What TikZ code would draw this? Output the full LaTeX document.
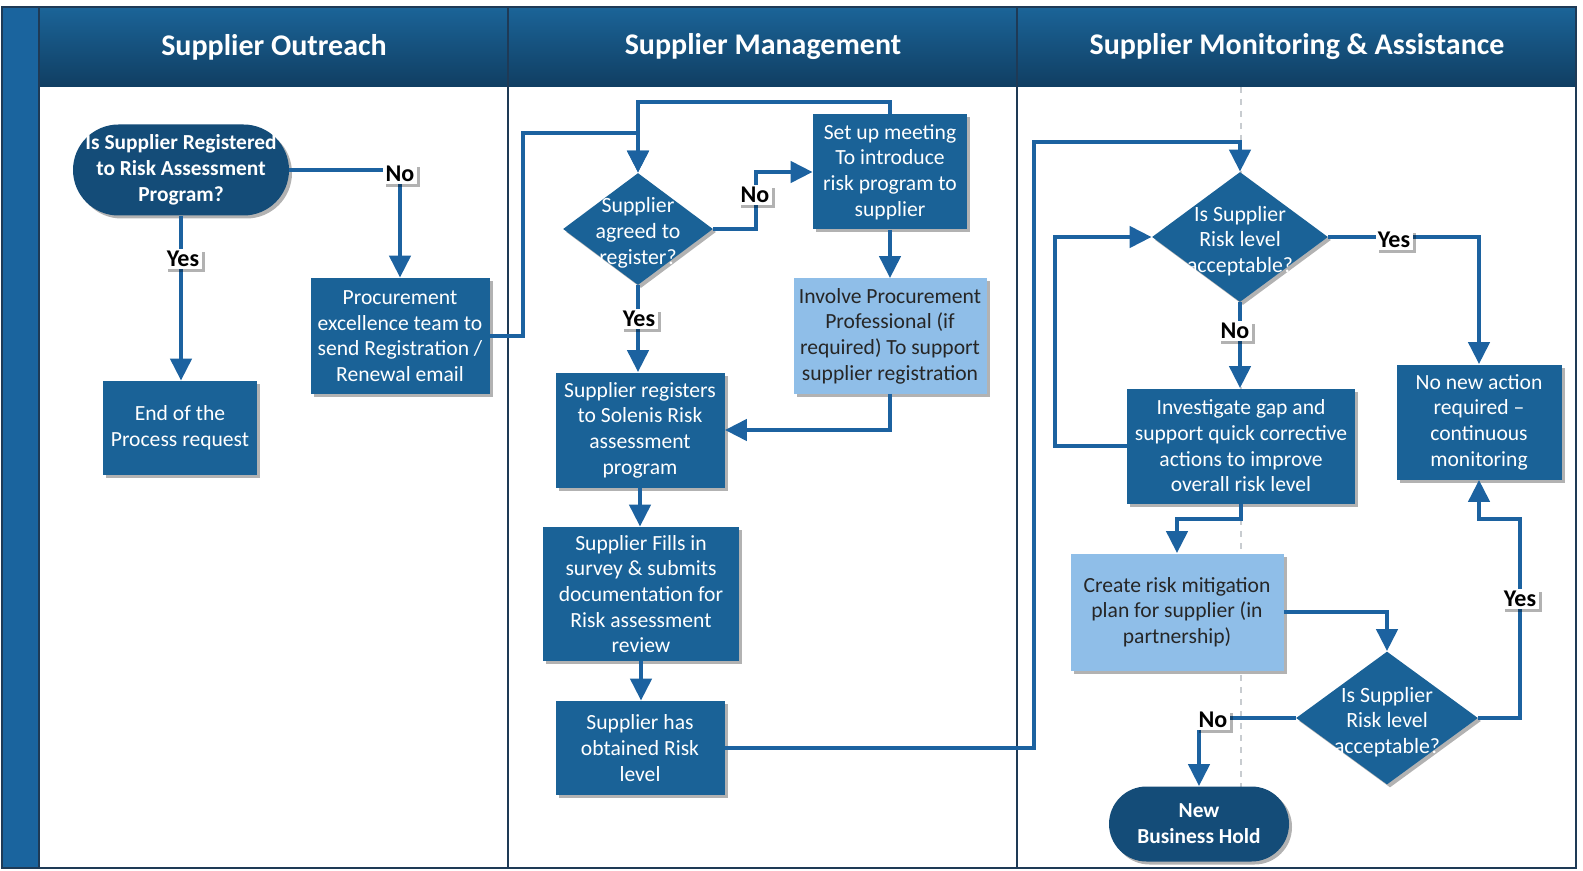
\documentclass[tikz,border=0pt]{standalone}
\usepackage{fontspec}
\setmainfont{Carlito}
\usetikzlibrary{shapes.geometric,arrows.meta,shadows}
\definecolor{boxblue}{HTML}{1A6297}
\definecolor{termblue}{HTML}{144C78}
\definecolor{lightblue}{HTML}{8FBEE8}
\definecolor{linkblue}{HTML}{1C62A0}
\definecolor{hdrtop}{HTML}{1B6498}
\definecolor{hdrbot}{HTML}{103E62}
\definecolor{barblue}{HTML}{1A649E}
\definecolor{navy}{HTML}{1E3A56}
\definecolor{dashgray}{HTML}{C8CCD0}
\begin{document}
\begin{tikzpicture}[x=0.5pt,y=-0.5pt,
 shd/.style={drop shadow={shadow xshift=1.5pt,shadow yshift=-1.5pt,opacity=0.3,fill=black}},
 procbox/.style={rectangle,fill=boxblue,text=white,align=center,inner sep=0pt,font=\fontsize{10.8}{12.85}\selectfont,shd},
 lightbox/.style={procbox,fill=lightblue,text=black!85},
 term/.style={rectangle,rounded corners=#1,fill=termblue,text=white,align=center,inner sep=0pt,font=\bfseries\fontsize{10.7}{13}\selectfont,shd},
 dia/.style={diamond,fill=boxblue,inner sep=0pt,shd},
 diatext/.style={text=white,align=center,inner sep=0pt,yshift=-2pt,font=\fontsize{10.9}{12.9}\selectfont},
 arr/.style={draw=linkblue,line width=2.2pt,-{Triangle[width=10.5pt,length=11pt]}},
 lbl/.style={fill=white,text=black,font=\bfseries\fontsize{12}{14}\selectfont,inner sep=1.2pt,shd},
 hdr/.style={text=white,font=\bfseries\fontsize{15}{18}\selectfont}
]
\useasboundingbox (0,0) rectangle (1583,871);
\fill[white] (0,0) rectangle (1583,871);
% lanes frame
\fill[barblue] (2,7) rectangle (39,868);
\shade[top color=hdrtop,bottom color=hdrbot] (40,7) rectangle (1576,87);
\draw[dashgray,dashed,line width=0.6pt] (1241,87) -- (1241,868);
\draw[navy,line width=1.2pt] (2,7) rectangle (1576,868);
\draw[navy,line width=1.2pt] (39,7) -- (39,868);
\draw[navy,line width=1.2pt] (508,7) -- (508,868);
\draw[navy,line width=1.2pt] (1017,7) -- (1017,868);
\node[hdr] (h1) at (274,47) {Supplier Outreach};
\node[hdr] (h2) at (763,47) {Supplier Management};
\node[hdr] (h3) at (1297,47) {Supplier Monitoring \& Assistance};

% lane 1
\node[term=22.75pt,minimum width=108pt,minimum height=45.5pt] (start) at (181,170) {Is Supplier Registered\\to Risk Assessment\\Program?};
\node[procbox,minimum width=77pt,minimum height=47pt] (end1) at (180,428) {End of the\\Process request};
\node[procbox,minimum width=89.5pt,minimum height=58pt] (proc1) at (400,336) {Procurement\\excellence team to\\send Registration /\\Renewal email};

% lane 2
\node[dia,minimum width=75pt,minimum height=56pt] (d1) at (638,229) {};
\node[diatext] (d1t) at (d1.center) {Supplier\\agreed to\\register?};
\node[procbox,minimum width=77pt,minimum height=57.5pt] (setup) at (890,172) {Set up meeting\\To introduce\\risk program to\\supplier};
\node[lightbox,minimum width=96.5pt,minimum height=57.5pt] (involve) at (890,336) {Involve Procurement\\Professional (if\\required) To support\\supplier registration};
\node[procbox,minimum width=84.5pt,minimum height=57.5pt] (reg) at (640,430) {Supplier registers\\to Solenis Risk\\assessment\\program};
\node[procbox,minimum width=98pt,minimum height=67pt] (fills) at (641,594) {Supplier Fills in\\survey \& submits\\documentation for\\Risk assessment\\review};
\node[procbox,minimum width=84.5pt,minimum height=47pt] (has) at (640,748) {Supplier has\\obtained Risk\\level};

% lane 3
\node[dia,minimum width=88pt,minimum height=65pt] (d2) at (1240,237) {};
\node[diatext] (d2t) at (d2.center) {Is Supplier\\Risk level\\acceptable?};
\node[procbox,minimum width=114pt,minimum height=57.5pt] (inv) at (1241,446) {Investigate gap and\\support quick corrective\\actions to improve\\overall risk level};
\node[procbox,minimum width=82.5pt,minimum height=57.5pt] (nonew) at (1479,422) {No new action\\required –\\continuous\\monitoring};
\node[lightbox,minimum width=106.5pt,minimum height=58.5pt] (plan) at (1177,612) {Create risk mitigation\\plan for supplier (in\\partnership)};
\node[dia,minimum width=91pt,minimum height=66.5pt] (d3) at (1387,718) {};
\node[diatext] (d3t) at (d3.center) {Is Supplier\\Risk level\\acceptable?};
\node[term=18.75pt,minimum width=90pt,minimum height=37.5pt] (hold) at (1199,824) {New\\Business Hold};

% helper coordinates
\coordinate (c1) at (523,133);
\coordinate (c2) at (638,102);
\coordinate (c3) at (756,229);
\coordinate (c4) at (1034,142);
\coordinate (c5) at (1055,237);
\coordinate (c6) at (1241,519);
\coordinate (c7) at (1520,519);

% connectors
\draw[arr] (start.south) -- (start.south |- end1.north);
\draw[arr] (start.east) -| (proc1.north);
\draw[arr] (proc1.east) -| (c1) -| (d1.north);
\draw[arr] (setup.north) |- (c2) -- (d1.north);
\draw[arr] (d1.east) -- (c3) |- (setup.west);
\draw[arr] (d1.south) -- (d1.south |- reg.north);
\draw[arr] (setup.south) -- (involve.north);
\draw[arr] (involve.south) |- (reg.east);
\draw[arr] (reg.south) -- (reg.south |- fills.north);
\draw[arr] (fills.south) -- (fills.south |- has.north);
\draw[arr] (has.east) -| (c4) -| (d2.north);
\draw[arr] (d2.south) -- (d2.south |- inv.north);
\draw[arr] (d2.east) -| (nonew.north);
\draw[arr] (inv.west) -| (c5) -- (d2.west);
\draw[arr] (inv.south) -- (c6) -| (plan.north);
\draw[arr] (plan.east) -| (d3.north);
\draw[arr] (d3.east) -| (c7) -| (nonew.south);
\draw[arr] (d3.west) -| (hold.north);

% labels
\node[lbl] (l1) at (183,259) {Yes};
\node[lbl] (l2) at (400,174) {No};
\node[lbl] (l3) at (755,195) {No};
\node[lbl] (l4) at (639,319) {Yes};
\node[lbl] (l5) at (1235,331) {No};
\node[lbl] (l6) at (1394,240) {Yes};
\node[lbl] (l7) at (1520,599) {Yes};
\node[lbl] (l8) at (1213,720) {No};
\end{tikzpicture}
\end{document}
